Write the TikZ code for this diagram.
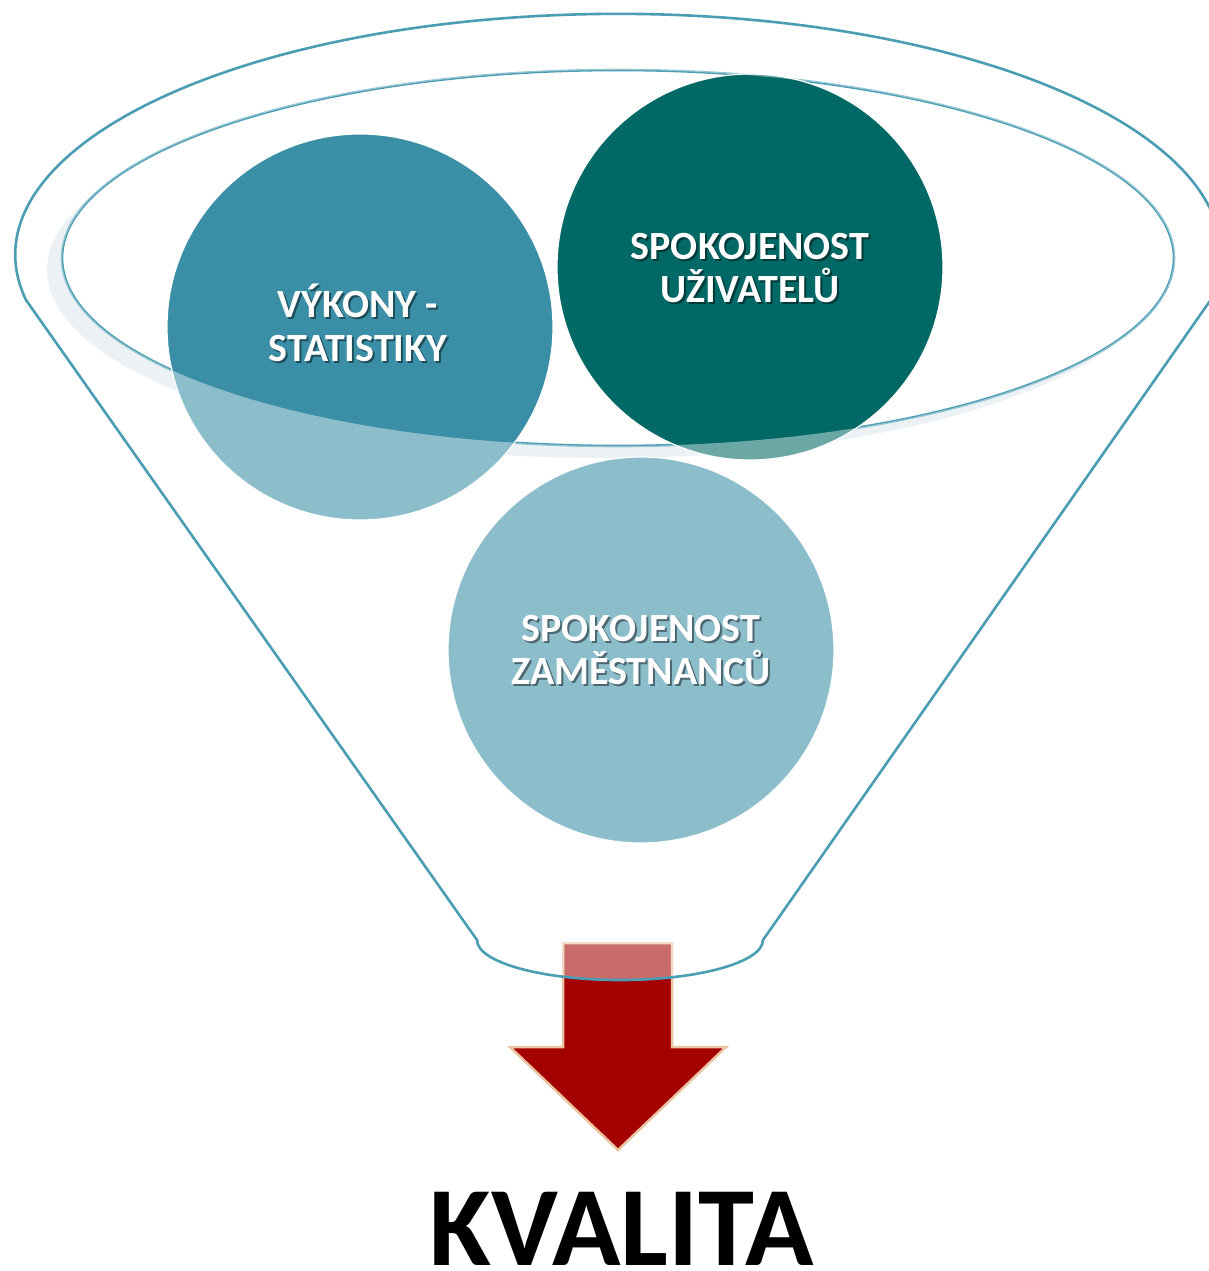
\documentclass[tikz,border=0pt]{standalone}
\usepackage{fontspec}
\setmainfont{Carlito}

\definecolor{funnelline}{HTML}{4A9DB3}
\definecolor{tealmid}{HTML}{3A8FA6}
\definecolor{tealdark}{HTML}{006865}
\definecolor{bandgray}{HTML}{DFE8EE}
\definecolor{arrowred}{HTML}{A50000}
\definecolor{arrowrim}{HTML}{EBC3A0}

\begin{document}
\begin{tikzpicture}[x=1pt, y=-1pt,
    bubble/.style={circle, minimum size=386pt, inner sep=0pt, draw=white, line width=1.2pt},
    lbl/.style={anchor=base, text=white, font=\fontsize{40}{43}\selectfont\bfseries},
    lblshadow/.style={lbl, text=black, opacity=0.45},
    rim/.style={draw=funnelline, line width=2.6pt}]

        \useasboundingbox (0,0) rectangle (1209,1271);
        \clip (0,0) rectangle (1209,1271);

        % shadow band and opening of the funnel
        \fill[bandgray] (603,270) ellipse [x radius=556, y radius=188];
        \fill[white] (618,258) ellipse [x radius=556, y radius=188];
        \draw[rim] (618,258) ellipse [x radius=556, y radius=188];

        \begin{scope}[every node/.style={bubble}]
          \node[fill=tealmid]  (vykony)      at (360,327) {};
          \node[fill=tealdark] (uzivatele)   at (750,267) {};
          \node[fill=tealmid]  (zamestnanci) at (641,650) {};
        \end{scope}

        % arrow
        \fill[arrowred, draw=arrowrim, line width=2.5pt]
          (563,943) -- (672,943) -- (672,1047) -- (726,1047) -- (618,1150)
          -- (510,1047) -- (563,1047) -- cycle;

        % funnel body
        \fill[white, opacity=0.42, even odd rule]
          (26,300) arc [start angle=169.2, end angle=370.8, x radius=603, y radius=241]
          -- (763,940) arc [start angle=0, end angle=180, x radius=143, y radius=40]
          -- cycle
          (618,258) ellipse [x radius=556, y radius=188];
        \draw[rim]
          (26,300) arc [start angle=169.2, end angle=370.8, x radius=603, y radius=241]
          -- (763,940) arc [start angle=0, end angle=180, x radius=143, y radius=40]
          -- cycle;

        \foreach \nm/\px/\py/\txt in {vyk1/358/317/{VÝKONY -}, vyk2/358/361/STATISTIKY,
            uzi1/750/259/SPOKOJENOST, uzi2/750/302/UŽIVATELŮ,
            zam1/641/641/SPOKOJENOST, zam2/641/684/ZAMĚSTNANCŮ} {
          \node[lblshadow] (\nm s) at (\px+2,\py+2) {\txt};
          \node[lbl] (\nm) at (\px,\py) {\txt};
        }

        \node[anchor=base, inner sep=0pt, font=\fontsize{113}{120}\selectfont\bfseries] (kvalita) at (622,1265) {KVALITA};

      \end{tikzpicture}
\end{document}
